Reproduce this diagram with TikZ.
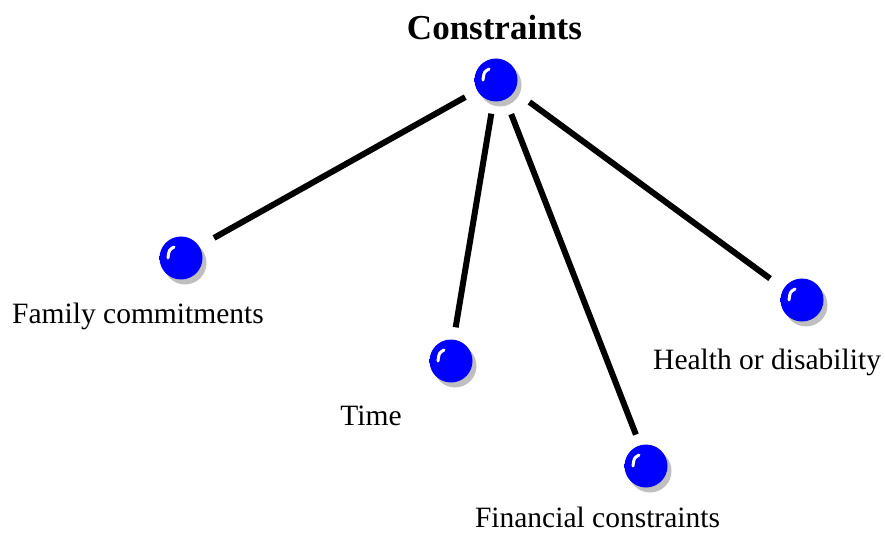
\documentclass[tikz,border=0pt]{standalone}
\usepackage{fontspec}
\setmainfont{Liberation Serif}
\usetikzlibrary{shadows}

% glossy blue sphere: flat blue face, darker rim towards the lower right
\pgfdeclareradialshading{glossball}{\pgfpoint{-9bp}{9bp}}{%
  color(0bp)=(blue);
  color(40bp)=(blue);
  color(52bp)=(blue!60!black);
  color(75bp)=(blue!45!black)}

\tikzset{
  sphere/.style={circle, minimum size=43pt, inner sep=0pt, shading=glossball,
    drop shadow={shadow xshift=4pt, shadow yshift=-5pt, fill=black!25, opacity=1}},
  glint/.style={white, line width=3pt, line cap=round},
  link/.style={line width=6pt, line cap=butt},
  caption/.style={font=\fontsize{29.5}{36}\selectfont, inner sep=0pt, anchor=base},
  heading/.style={font=\fontsize{35}{42}\selectfont\bfseries, inner sep=0pt, anchor=base}
}

\newcommand{\glintat}[1]{%
  \draw[glint] ([shift={(-7,-11)}]#1.center) .. controls ([shift={(-12,-8)}]#1.center) .. ([shift={(-13,0)}]#1.center);}

\begin{document}
\begin{tikzpicture}[x=1pt, y=-1pt]
  \useasboundingbox (0,0) rectangle (885,534);

  % spheres
  \node[sphere] (top)    at (496,80)  {};
  \node[sphere] (fam)    at (181,258) {};
  \node[sphere] (time)   at (451,361) {};
  \node[sphere] (fin)    at (646,466) {};
  \node[sphere] (health) at (802,300) {};

  \glintat{top}
  \glintat{fam}
  \glintat{time}
  \glintat{fin}
  \glintat{health}

  % connectors
  \draw[link, shorten <=13.5pt, shorten >=17pt] (top.209.5) -- (fam.33.3);
  \draw[link, shorten <=12.3pt, shorten >=12.3pt] (top.263) -- (time.83);
  \draw[link, shorten <=15.7pt, shorten >=11.3pt] (top.296) -- (fin.106);
  \draw[link, shorten <=18.4pt, shorten >=16.8pt] (top.329.5) -- (health.148);

  % labels
  \node[heading] (ttl) at (494.5,40) {Constraints};
  \node[caption, anchor=base west] (lfam) at (12,323) {Family commitments};
  \node[caption] (ltime) at (371,425) {Time};
  \node[caption] (lfin) at (597.5,527) {Financial constraints};
  \node[caption, anchor=base west] (lhealth) at (653,369) {Health or disability};
\end{tikzpicture}
\end{document}
